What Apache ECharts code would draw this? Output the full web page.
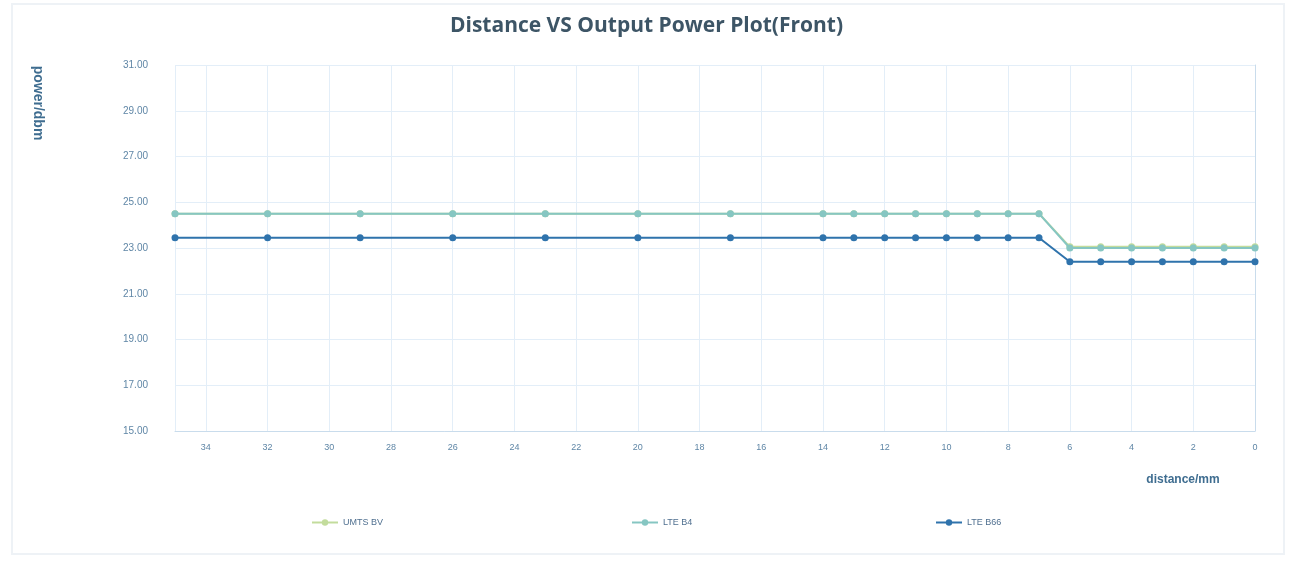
<!DOCTYPE html>
<html>
<head>
<meta charset="utf-8">
<script src="https://cdn.jsdelivr.net/npm/echarts@6/dist/echarts.min.js"></script>
<style>html,body{margin:0;padding:0;background:#fff;}#c{width:1293px;height:561px;}</style>
</head>
<body>
<div id="c"></div>
<script>
const distances = [35, 32, 29, 26, 23, 20, 17, 14, 13, 12, 11, 10, 9, 8, 7, 6, 5, 4, 3, 2, 1, 0];
const umtsBV = [24.5, 24.5, 24.5, 24.5, 24.5, 24.5, 24.5, 24.5, 24.5, 24.5, 24.5, 24.5, 24.5, 24.5, 24.5, 23.05, 23.05, 23.05, 23.05, 23.05, 23.05, 23.05];
const lteB4 = [24.5, 24.5, 24.5, 24.5, 24.5, 24.5, 24.5, 24.5, 24.5, 24.5, 24.5, 24.5, 24.5, 24.5, 24.5, 23.0, 23.0, 23.0, 23.0, 23.0, 23.0, 23.0];
const lteB66 = [23.45, 23.45, 23.45, 23.45, 23.45, 23.45, 23.45, 23.45, 23.45, 23.45, 23.45, 23.45, 23.45, 23.45, 23.45, 22.4, 22.4, 22.4, 22.4, 22.4, 22.4, 22.4];
const seriesNames = ['UMTS BV', 'LTE B4', 'LTE B66'];
const seriesColors = ['#c3dc9c', '#86c6c2', '#2f73ac'];
const xAxisName = 'distance/mm';
const yAxisName = 'power/dbm';

const pair = (xs, ys) => xs.map((x, i) => [x, ys[i]]);
const vals = [umtsBV, lteB4, lteB66];

const chart = echarts.init(document.getElementById('c'));
chart.setOption({
  backgroundColor: '#fff',
  animation: false,
  title: {
    text: 'Distance VS Output Power Plot(Front)',
    left: 'center', top: 11,
    textStyle: { fontSize: 21, fontWeight: 'bold', color: '#3d5566', fontFamily: 'Open Sans' }
  },
  graphic: [
    { type: 'rect', shape: { x: 12, y: 4, width: 1272, height: 550 },
      style: { fill: 'none', stroke: '#eef2f6', lineWidth: 2 }, silent: true },
    { type: 'text', x: 1183, y: 480, silent: true,
      style: { text: xAxisName, fontSize: 12, fontWeight: 'bold', fill: '#3f6d90', align: 'center', verticalAlign: 'middle', fontFamily: 'Liberation Sans' } },
    { type: 'text', x: 38, y: 103, rotation: -Math.PI / 2, silent: true,
      style: { text: yAxisName, fontSize: 14, fontWeight: 'bold', fill: '#3f6d90', align: 'center', verticalAlign: 'middle', fontFamily: 'Liberation Sans' } }
  ],
  legend: seriesNames.map((n, i) => ({
    data: [n], top: 513, left: [306, 626, 930][i],
    itemWidth: 26, itemHeight: 8, itemGap: 4,
    textStyle: { fontSize: 9, color: '#4f6f8f', fontFamily: 'Liberation Sans Narrow, Liberation Sans' }
  })),
  grid: { left: 175, right: 38, top: 65, bottom: 130 },
  xAxis: {
    type: 'value', inverse: true, min: 0, max: 35, interval: 2,
    axisLine: { show: true, lineStyle: { color: '#c9dcec', width: 1 } },
    axisTick: { show: false },
    axisLabel: { showMaxLabel: false, fontSize: 9, color: '#5f86a6', margin: 12, fontFamily: 'Liberation Sans' },
    splitLine: { show: true, lineStyle: { color: '#e3eef8', width: 1 } }
  },
  yAxis: {
    type: 'value', min: 15, max: 31, interval: 2,
    axisLine: { show: true, lineStyle: { color: '#c9dcec', width: 1 } },
    axisTick: { show: false },
    axisLabel: { fontSize: 10, color: '#5f86a6', margin: 27, formatter: v => v.toFixed(2), fontFamily: 'Liberation Sans' },
    splitLine: { show: true, lineStyle: { color: '#e3eef8', width: 1 } }
  },
  series: seriesNames.map((n, i) => ({
    name: n, type: 'line', data: pair(distances, vals[i]),
    symbol: 'circle', symbolSize: 7,
    lineStyle: { color: seriesColors[i], width: 2 },
    itemStyle: { color: seriesColors[i] },
    z: 2 + i
  }))
});
</script>
</body>
</html>
